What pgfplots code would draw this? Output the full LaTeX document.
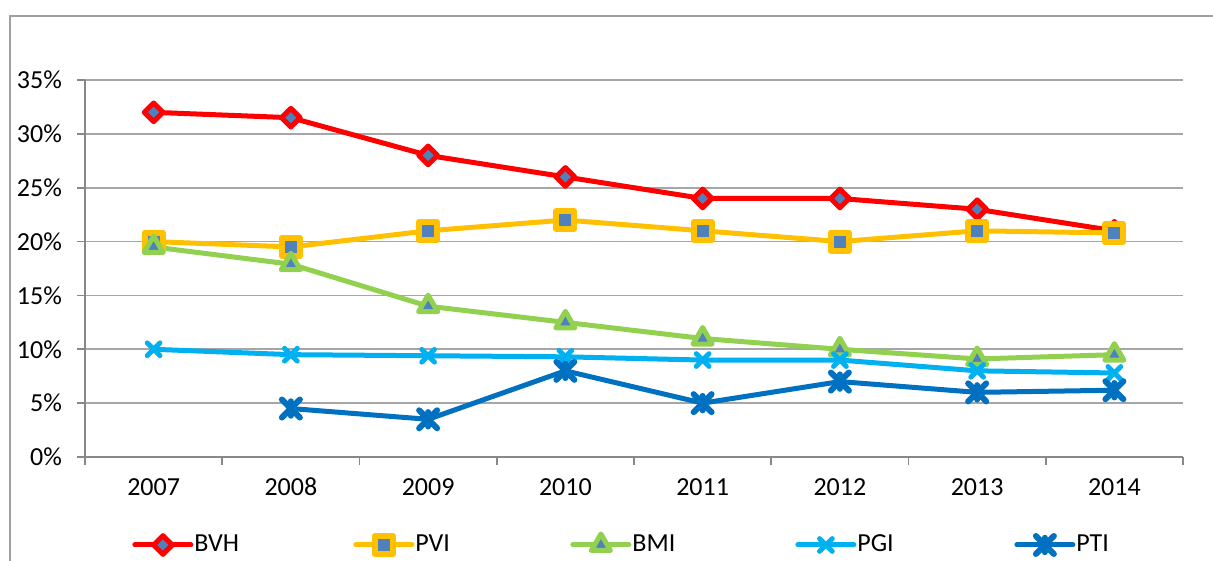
\documentclass[border=0pt]{standalone}
\usepackage{pgfplots}
\pgfplotsset{compat=1.18}
\usepackage{fontspec}
\setmainfont{Carlito}
\definecolor{cBVH}{HTML}{FF0000}
\definecolor{cPVI}{HTML}{FFC000}
\definecolor{cBMI}{HTML}{92D050}
\definecolor{cPGI}{HTML}{00B0F0}
\definecolor{cPTI}{HTML}{0070C0}
\definecolor{mfill}{HTML}{4F81BD}
\definecolor{gridgray}{HTML}{A6A6A6}
\definecolor{axisgray}{HTML}{888888}
\definecolor{framegray}{HTML}{A0A0A0}
\pgfdeclareplotmark{xstar}{%
  \pgfpathmoveto{\pgfqpoint{-\pgfplotmarksize}{-\pgfplotmarksize}}%
  \pgfpathlineto{\pgfqpoint{\pgfplotmarksize}{\pgfplotmarksize}}%
  \pgfpathmoveto{\pgfqpoint{-\pgfplotmarksize}{\pgfplotmarksize}}%
  \pgfpathlineto{\pgfqpoint{\pgfplotmarksize}{-\pgfplotmarksize}}%
  \pgfpathmoveto{\pgfqpoint{0pt}{-0.8\pgfplotmarksize}}%
  \pgfpathlineto{\pgfqpoint{0pt}{0.8\pgfplotmarksize}}%
  \pgfusepathqstroke}
\begin{document}
\begin{tikzpicture}[x=1pt,y=1pt]
\path[use as bounding box] (-42.5,-52) rectangle (564,228.5);
\draw[framegray, line width=0.8pt] (-37.5,-53) -- (-37.5,220.5) -- (565,220.5);
\begin{axis}[
  at={(0,0)}, anchor=south west,
  scale only axis, width=549pt, height=188.5pt,
  xmin=-0.5, xmax=7.5, ymin=0, ymax=35,
  axis x line*=bottom, axis y line*=left,
  axis line style={-, draw=axisgray, line width=0.8pt},
  xtick={-0.5,0.5,...,7.5}, x tick label as interval,
  xticklabels={2007,2008,2009,2010,2011,2012,2013,2014},
  ytick={0,5,...,35},
  yticklabels={0\%,5\%,10\%,15\%,20\%,25\%,30\%,35\%},
  ymajorgrids, grid style={draw=gridgray, line width=0.8pt},
  tick align=outside, major tick length=4pt,
  tick style={draw=axisgray, line width=0.8pt},
  ticklabel style={font=\fontsize{13}{15}\selectfont},
  xticklabel style={yshift=-3pt, text height=8.5pt, text depth=0pt},
  yticklabel style={xshift=-4pt},
  clip=false,
  every axis plot/.append style={line width=2.5pt, line cap=round, line join=round},
  legA/.style={legend image code/.code={\draw[mark repeat=2,mark phase=2] plot coordinates {(0pt,0pt) (14pt,0pt) (28pt,0pt)};}},
  legend columns=5,
  legend style={at={(axis description cs:0.0428,-0.2334)}, anchor=west, draw=none, inner sep=0pt,
    font=\fontsize{13}{15}\selectfont, /tikz/column sep=0pt,
    nodes={inner xsep=0.5pt, inner ysep=1pt}},
]
\addplot[cBVH, legA, mark=square*, mark size=3.3pt,
  mark options={rotate=45, fill=mfill, draw=cBVH, line width=2.5pt}]
  coordinates {(0,32) (1,31.5) (2,28) (3,26) (4,24) (5,24) (6,23) (7,21)};
\addlegendentry{\makebox[79pt][l]{BVH}}
\addplot[cPVI, legA, mark=square*, mark size=4.5pt,
  mark options={fill=mfill, draw=cPVI, line width=3pt}]
  coordinates {(0,20) (1,19.5) (2,21) (3,22) (4,21) (5,20) (6,21) (7,20.8)};
\addlegendentry{\makebox[77pt][l]{PVI}}
\addplot[cBMI, legA, mark=triangle*, mark size=5.5pt,
  mark options={fill=mfill, draw=cBMI, line width=2.5pt}]
  coordinates {(0,19.5) (1,17.9) (2,14) (3,12.5) (4,11) (5,10) (6,9.1) (7,9.5)};
\addlegendentry{\makebox[81pt][l]{BMI}}
\addplot[cPGI, legA, mark=x, mark size=4.5pt,
  mark options={draw=cPGI, line width=2.5pt}]
  coordinates {(0,10) (1,9.5) (2,9.4) (3,9.3) (4,9) (5,9) (6,8) (7,7.8)};
\addlegendentry{\makebox[78pt][l]{PGI}}
\addplot[cPTI, legA, mark=xstar, mark size=4.5pt,
  mark options={draw=cPTI, line width=3pt}]
  coordinates {(1,4.5) (2,3.5) (3,8) (4,5) (5,7) (6,6) (7,6.2)};
\addlegendentry{PTI}
\end{axis}
\end{tikzpicture}
\end{document}
